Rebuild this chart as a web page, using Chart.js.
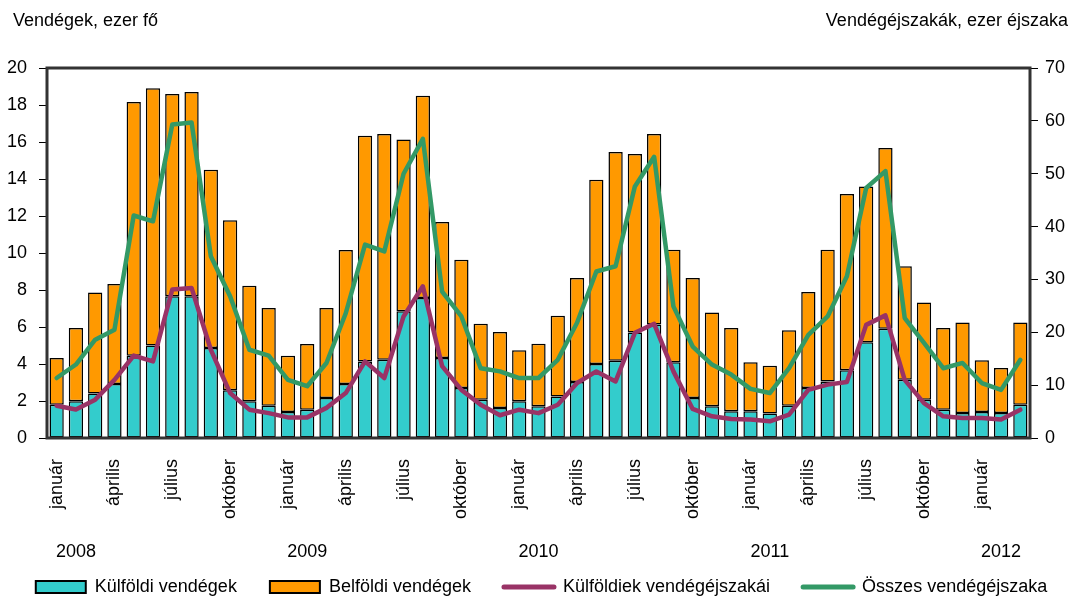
<!DOCTYPE html>
<html>
<head>
<meta charset="utf-8">
<script src="https://cdn.jsdelivr.net/npm/chart.js@4/dist/chart.umd.min.js"></script>
<style>
  html, body { margin: 0; padding: 0; background: #fff; }
  #wrap { width: 1083px; height: 596px; position: relative; }
</style>
</head>
<body>
<div id="wrap"><canvas id="c" width="1083" height="596"></canvas></div>
<script>
// ---- data ----
const years = ['2008', '2009', '2010', '2011', '2012'];
const monthNames = ['január','február','március','április','május','június','július','augusztus','szeptember','október','november','december'];
const shownMonths = ['január', 'április', 'július', 'október'];

// Külföldi vendégek (ezer fő)
const kulfoldiVendegek = [
  1.80, 1.98, 2.40, 2.92, 4.45, 5.00, 7.66, 7.66, 4.86, 2.58, 1.98, 1.75,
  1.40, 1.53, 2.16, 2.92, 4.14, 4.23, 6.85, 7.57, 4.32, 2.70, 2.07, 1.62,
  1.98, 1.71, 2.25, 3.03, 4.00, 4.18, 5.70, 6.13, 4.10, 2.16, 1.71, 1.44,
  1.44, 1.32, 1.75, 2.70, 3.06, 3.66, 5.17, 5.90, 3.15, 2.07, 1.53, 1.35,
  1.40, 1.35, 1.80
];
// Belföldi vendégek (ezer fő)
const belfoldiVendegek = [
  2.52, 3.97, 5.47, 5.40, 13.71, 13.90, 10.94, 11.04, 9.64, 9.19, 6.25, 5.28,
  3.05, 3.55, 4.87, 7.24, 12.20, 12.20, 9.28, 10.93, 7.36, 6.94, 4.11, 4.11,
  2.76, 3.39, 4.36, 5.62, 9.96, 11.28, 9.65, 10.30, 6.08, 6.49, 5.08, 4.51,
  2.66, 2.59, 4.07, 5.19, 7.12, 9.53, 8.43, 9.78, 6.13, 5.26, 4.42, 4.90,
  2.80, 2.43, 4.45
];
// Külföldiek vendégéjszakái (ezer éjszaka)
const kulfoldiekEjszakai = [
  6.1, 5.4, 7.25, 11.0, 15.6, 14.5, 28.1, 28.4, 16.7, 8.5, 5.36, 4.7,
  3.9, 3.9, 5.7, 8.5, 14.5, 11.35, 23.0, 28.7, 13.6, 9.1, 6.3, 4.3,
  5.36, 4.7, 6.3, 10.4, 12.6, 10.7, 19.9, 21.6, 12.6, 5.5, 4.1, 3.6,
  3.5, 3.15, 4.4, 9.1, 10.1, 10.6, 21.4, 23.2, 11.0, 6.6, 4.1, 3.8,
  3.8, 3.5, 5.36
];
// Összes vendégéjszaka (ezer éjszaka)
const osszesEjszaka = [
  11.35, 13.9, 18.6, 20.5, 42.1, 41.0, 59.3, 59.7, 34.4, 26.8, 16.7, 15.6,
  11.0, 9.8, 14.2, 23.6, 36.6, 35.3, 50.0, 56.6, 27.7, 23.0, 13.2, 12.6,
  11.35, 11.35, 14.8, 21.8, 31.5, 32.5, 47.6, 53.2, 24.9, 17.3, 13.9, 12.0,
  9.3, 8.5, 13.2, 19.5, 23.0, 30.6, 47.3, 50.5, 22.7, 18.0, 13.2, 14.2,
  10.4, 9.1, 14.8
];

const categories = [];
years.forEach(y => monthNames.forEach(m => categories.push(y + ' ' + m)));
categories.length = kulfoldiVendegek.length;

const FONT = "'Liberation Sans', Arial, sans-serif";
Chart.defaults.font.family = FONT;
Chart.defaults.font.size = 18;
Chart.defaults.color = '#000';

const frameAndTitles = {
  id: 'frameAndTitles',
  afterLayout(chart) {
    // pull the legend row up a little, closer to the year labels
    const l = chart.legend;
    if (l) { l.top -= 19; l.bottom -= 19; }
  },
  afterDatasetsDraw(chart) {
    const { ctx, chartArea: a } = chart;
    ctx.save();
    ctx.strokeStyle = '#333';
    ctx.lineWidth = 3;
    ctx.strokeRect(a.left, a.top, a.right - a.left, a.bottom - a.top);
    ctx.restore();
  },
  afterDraw(chart) {
    const { ctx } = chart;
    ctx.save();
    ctx.fillStyle = '#000';
    ctx.font = '18px ' + FONT;
    ctx.textBaseline = 'middle';
    ctx.textAlign = 'left';
    ctx.fillText('Vendégek, ezer fő', 13, 21);
    ctx.textAlign = 'right';
    ctx.fillText('Vendégéjszakák, ezer éjszaka', 1068, 21);
    ctx.restore();
  }
};

new Chart(document.getElementById('c'), {
  type: 'bar',
  data: {
    labels: categories,
    datasets: [
      {
        type: 'bar', label: 'Külföldi vendégek', data: kulfoldiVendegek,
        backgroundColor: '#33CCCC', borderColor: '#000', borderWidth: 1.5,
        borderSkipped: false, stack: 's', yAxisID: 'y', order: 1,
        barPercentage: 0.74, categoryPercentage: 1
      },
      {
        type: 'bar', label: 'Belföldi vendégek', data: belfoldiVendegek,
        backgroundColor: '#FF9900', borderColor: '#000', borderWidth: 1.5,
        borderSkipped: false, stack: 's', yAxisID: 'y', order: 1,
        barPercentage: 0.74, categoryPercentage: 1
      },
      {
        type: 'line', label: 'Külföldiek vendégéjszakái', data: kulfoldiekEjszakai,
        borderColor: '#993366', backgroundColor: '#993366', borderWidth: 4.5,
        pointRadius: 0, tension: 0, yAxisID: 'y2', order: 0,
        borderJoinStyle: 'round', borderCapStyle: 'round'
      },
      {
        type: 'line', label: 'Összes vendégéjszaka', data: osszesEjszaka,
        borderColor: '#339966', backgroundColor: '#339966', borderWidth: 4.5,
        pointRadius: 0, tension: 0, yAxisID: 'y2', order: 0,
        borderJoinStyle: 'round', borderCapStyle: 'round'
      }
    ]
  },
  options: {
    responsive: false,
    animation: false,
    layout: { padding: { top: 68, left: 0, right: 0, bottom: -29 } },
    plugins: {
      tooltip: { enabled: false },
      legend: {
        position: 'bottom',
        labels: {
          usePointStyle: true,
          pointStyleWidth: 50,
          boxHeight: 12,
          padding: 33,
          font: { size: 18 },
          generateLabels(chart) {
            const items = Chart.defaults.plugins.legend.labels.generateLabels(chart);
            items.sort((p, q) => p.datasetIndex - q.datasetIndex);
            items.forEach(it => {
              const ds = chart.data.datasets[it.datasetIndex];
              if (ds.type === 'line') {
                it.pointStyle = 'line';
                it.lineWidth = 5;
                it.lineCap = 'round';
                it.strokeStyle = ds.borderColor;
              } else {
                it.pointStyle = 'rect';
                it.lineWidth = 2;
                it.strokeStyle = '#000';
              }
            });
            return items;
          }
        }
      }
    },
    scales: {
      x: {
        stacked: true,
        offset: true,
        grid: { display: false },
        border: { display: false },
        afterFit(scale) { scale.height = 90; },
        ticks: {
          autoSkip: false, minRotation: 90, maxRotation: 90, padding: 13,
          font: { size: 18 },
          callback(v, i) {
            const m = monthNames[i % 12];
            return shownMonths.includes(m) ? m : '';
          }
        }
      },
      x2: {
        type: 'category',
        position: 'bottom',
        offset: true,
        weight: 1,
        grid: { display: false },
        border: { display: false },
        afterFit(scale) { scale.height = 36; },
        ticks: {
          autoSkip: false, maxRotation: 0, minRotation: 0, padding: 5,
          font: { size: 18 },
          callback(v, i) {
            return (i % 12 === 1) ? years[Math.floor(i / 12)] : '';
          }
        }
      },
      y: {
        stacked: true,
        position: 'left',
        min: 0, max: 20,
        border: { display: false },
        afterFit(scale) { scale.width = 47; },
        grid: { drawOnChartArea: false, drawTicks: true, tickLength: 8, color: '#000', lineWidth: 1 },
        ticks: { stepSize: 2, padding: 12, font: { size: 18 } }
      },
      y2: {
        position: 'right',
        min: 0, max: 70,
        border: { display: false },
        afterFit(scale) { scale.width = 53; },
        grid: { drawOnChartArea: false, drawTicks: true, tickLength: 8, color: '#000', lineWidth: 1 },
        ticks: { stepSize: 10, padding: 7, font: { size: 18 } }
      }
    }
  },
  plugins: [frameAndTitles]
});
</script>
</body>
</html>
